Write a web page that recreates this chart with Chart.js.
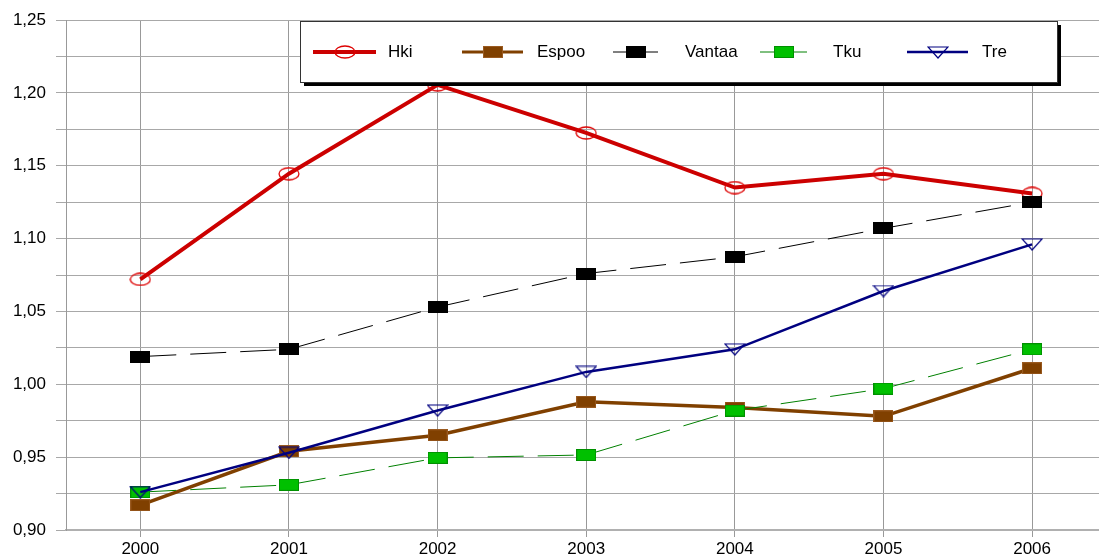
<!DOCTYPE html>
<html>
<head>
<meta charset="utf-8">
<script src="https://cdn.jsdelivr.net/npm/chart.js@4"></script>
<style>
  html, body { margin: 0; padding: 0; background: #fff; overflow: hidden; }
  #wrap { position: relative; width: 1099px; height: 559px; }
</style>
</head>
<body>
<div id="wrap"><canvas id="c"></canvas></div>
<script>
// data
const years = [2000, 2001, 2002, 2003, 2004, 2005, 2006];
const hki = [1.072, 1.1445, 1.2055, 1.1725, 1.135, 1.1445, 1.131];
const espoo = [0.917, 0.954, 0.965, 0.988, 0.984, 0.978, 1.011];
const vantaa = [1.019, 1.024, 1.053, 1.076, 1.0875, 1.107, 1.125];
const tku = [0.926, 0.931, 0.9495, 0.9515, 0.982, 0.997, 1.024];
const tre = [0.926, 0.953, 0.982, 1.0085, 1.024, 1.064, 1.096];

const FONT = "'Liberation Sans', Arial, sans-serif";

// small canvases used as point markers
function marker(w, h, draw) {
    const c = document.createElement('canvas');
    c.width = w; c.height = h;
    draw(c.getContext('2d'), w, h);
    return c;
}
const mkEllipse = marker(22, 14, (g, w, h) => {
    g.strokeStyle = '#dd0000'; g.lineWidth = 1.3;
    g.beginPath(); g.ellipse(w / 2, h / 2, w / 2 - 1, h / 2 - 1, 0, 0, Math.PI * 2); g.stroke();
});
function mkRect(fill, stroke) {
    return marker(20, 12, (g, w, h) => {
        g.fillStyle = fill; g.fillRect(0, 0, w, h);
        g.strokeStyle = stroke; g.lineWidth = 1; g.strokeRect(0.5, 0.5, w - 1, h - 1);
    });
}
const mkTri = marker(22, 13, (g, w, h) => {
    g.strokeStyle = '#000080'; g.lineWidth = 1.2;
    g.beginPath(); g.moveTo(1, 1); g.lineTo(w - 1, 1); g.lineTo(w / 2, h - 1); g.closePath(); g.stroke();
});

const pts = arr => arr.map((v, i) => ({ x: years[i], y: v }));

const datasets = [
    { label: 'Hki', data: pts(hki), borderColor: '#cc0000', borderWidth: 4, pointStyle: mkEllipse, order: 4, legendW: 4 },
    { label: 'Espoo', data: pts(espoo), borderColor: '#804000', borderWidth: 3.5, pointStyle: mkRect('#804000', '#9a5a20'), order: 3, legendW: 3 },
    { label: 'Vantaa', data: pts(vantaa), borderColor: '#000000', borderWidth: 1, borderDash: [36, 14], pointStyle: mkRect('#000000', '#000000'), order: 2, legendW: 1 },
    { label: 'Tku', data: pts(tku), borderColor: '#008000', borderWidth: 1, borderDash: [36, 14], pointStyle: mkRect('#00c000', '#009000'), order: 1, legendW: 1 },
    { label: 'Tre', data: pts(tre), borderColor: '#000080', borderWidth: 2.5, pointStyle: mkTri, order: 0, legendW: 2.5 }
];
datasets.forEach(d => { d.tension = 0; d.fill = false; d.pointRadius = 8; d.pointHoverRadius = 8; });

// legend box layout
const legendBox = { x: 300, y: 21, w: 757, h: 61, cy: 52 };
const legendItems = [
    { x1: 313, x2: 376, tx: 388 },
    { x1: 462, x2: 523, tx: 537 },
    { x1: 613, x2: 658, tx: 685 },
    { x1: 760, x2: 807, tx: 833 },
    { x1: 907, x2: 968, tx: 982 }
];

const legendPlugin = {
    id: 'boxLegend',
    afterDraw(chart) {
        const g = chart.ctx;
        const b = legendBox;
        g.save();
        g.fillStyle = '#000';
        g.fillRect(b.x + 4, b.y + 4, b.w, b.h);
        g.fillStyle = '#fff';
        g.fillRect(b.x, b.y, b.w, b.h);
        g.strokeStyle = '#333';
        g.lineWidth = 1;
        g.strokeRect(b.x + 0.5, b.y + 0.5, b.w, b.h);
        chart.data.datasets.forEach((d, i) => {
            const it = legendItems[i];
            g.strokeStyle = d.borderColor;
            g.lineWidth = d.legendW;
            g.setLineDash([]);
            g.beginPath(); g.moveTo(it.x1, b.cy); g.lineTo(it.x2, b.cy); g.stroke();
            const m = d.pointStyle;
            g.drawImage(m, Math.round((it.x1 + it.x2) / 2 - m.width / 2), Math.round(b.cy - m.height / 2));
            g.fillStyle = '#000';
            g.font = '17px ' + FONT;
            g.textBaseline = 'middle';
            g.fillText(d.label, it.tx, b.cy);
        });
        g.restore();
    }
};

new Chart(document.getElementById('c'), {
    type: 'line',
    data: { datasets },
    plugins: [legendPlugin],
    options: {
        responsive: true,
        maintainAspectRatio: false,
        animation: false,
        events: [],
        layout: { autoPadding: false, padding: { top: 20, right: 0, left: 0, bottom: 0 } },
        plugins: { legend: { display: false }, tooltip: { enabled: false } },
        scales: {
            x: {
                type: 'linear',
                min: 1999.5,
                max: 2006.45,
                afterBuildTicks: s => { s.ticks = years.map(v => ({ value: v })); },
                afterFit: s => { s.height = 29; s.paddingLeft = 0; s.paddingRight = 0; },
                ticks: { color: '#000', font: { family: FONT, size: 17 }, padding: 2, maxRotation: 0, callback: v => String(v) },
                grid: { color: '#999', lineWidth: 1, tickLength: 7, drawOnChartArea: true },
                border: { color: '#b0b0b0', width: 2 }
            },
            y: {
                min: 0.9,
                max: 1.25,
                afterBuildTicks: s => {
                    const t = [];
                    for (let k = 0; k <= 14; k++) t.push({ value: 0.9 + k * 0.025 });
                    s.ticks = t;
                },
                afterFit: s => { s.width = 66; s.paddingTop = 0; s.paddingBottom = 0; },
                ticks: {
                    color: '#000', font: { family: FONT, size: 17 }, padding: 10,
                    callback: v => {
                        const k = Math.round(v * 1000);
                        return k % 50 === 0 ? (k / 1000).toFixed(2).replace('.', ',') : '';
                    }
                },
                grid: { color: '#a8a8a8', lineWidth: 1, tickLength: 10 },
                border: { color: '#999', width: 1 }
            }
        }
    }
});
</script>
</body>
</html>
